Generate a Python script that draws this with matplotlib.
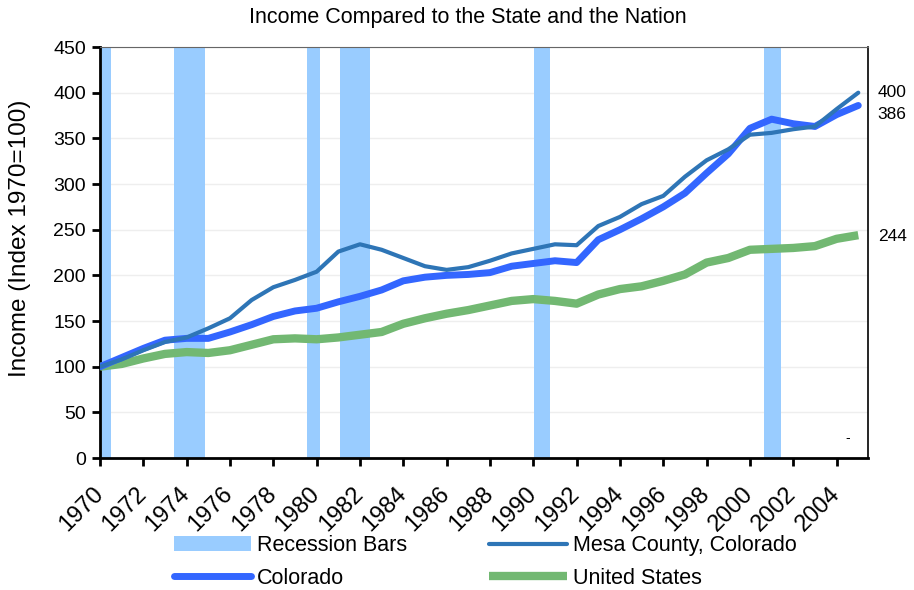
import numpy as np
import matplotlib
matplotlib.use("Agg")
import matplotlib.pyplot as plt
from matplotlib.lines import Line2D
from matplotlib.patches import Patch
from matplotlib.transforms import ScaledTranslation

plt.rcParams['font.family'] = ['Liberation Sans', 'DejaVu Sans']

years = np.arange(1970, 2006)

# Index 1970 = 100
mesa = [100, 108, 118, 127, 132, 142, 153, 173, 187, 195, 204, 226,
        234, 228, 219, 210, 206, 209, 216, 224, 229, 234, 233, 254,
        264, 278, 287, 308, 326, 338, 354, 356, 360, 363, 382, 400]
colorado = [100, 110, 120, 129, 131, 131, 138, 146, 155, 161, 164, 171,
            177, 184, 194, 198, 200, 201, 203, 210, 213, 216, 214, 239,
            250, 262, 275, 290, 312, 333, 361, 371, 366, 363, 376, 386]
usa = [100, 103, 109, 114, 116, 115, 118, 124, 130, 131, 130, 132,
       135, 138, 147, 153, 158, 162, 167, 172, 174, 172, 169, 179,
       185, 188, 194, 201, 214, 219, 228, 229, 230, 232, 240, 244]

# recession periods (start, end) as fractional years
rec_start = [1970.0, 1973.4, 1979.55, 1981.08, 1990.03, 2000.64]
rec_end = [1970.5, 1974.85, 1980.15, 1982.46, 1990.77, 2001.43]

end_labels = ["400", "386", "244"]
end_values = [400, 386, 244]
label_pos = [400, 376, 243]   # label positions, spread so they don't collide

c_rec = '#99CCFF'
c_mesa = '#2E75B6'
c_co = '#3366FF'
c_us = '#72B872'

fig = plt.figure(figsize=(9.14, 5.9), dpi=100)
ax = fig.add_axes([0.1094, 0.2237, 0.8403, 0.6966])

ax.bar(rec_start, 450, width=np.array(rec_end) - np.array(rec_start),
       align='edge', color=c_rec, zorder=1, linewidth=0)
ax.plot(years, usa, color=c_us, lw=6, solid_capstyle='butt', zorder=3)
ax.plot(years, colorado, color=c_co, lw=5, solid_capstyle='round', zorder=4)
ax.plot(years, mesa, color=c_mesa, lw=3, solid_capstyle='round', zorder=5)

ax.set_xlim(1970, 2005.45)
ax.set_ylim(0, 450)
ax.set_yticks(np.arange(0, 451, 50))
ax.set_xticks(np.arange(1970, 2005, 2))
ax.set_xticklabels([str(y) for y in range(1970, 2005, 2)], rotation=45,
                   ha='right', va='top', rotation_mode='anchor', fontsize=17)
ax.tick_params(axis='y', labelsize=14, direction='out', length=6, width=2, pad=4)
ax.tick_params(axis='x', direction='out', length=6, width=2, pad=6)
shift = ScaledTranslation(-8 / 100, -8 / 100, fig.dpi_scale_trans)
for t in ax.get_xticklabels():
    t.set_transform(t.get_transform() + shift)
ax.yaxis.grid(True, color='#EEEEEE', lw=1)
ax.set_axisbelow(True)
ax.spines['left'].set_linewidth(2)
ax.spines['bottom'].set_linewidth(2)
ax.spines['top'].set_color('#666666')
ax.spines['right'].set_linewidth(1.2)

ax.set_ylabel('Income (Index 1970=100)', fontsize=17.5)
ax.yaxis.set_label_coords(-0.09, 0.534)
fig.text(0.512, 0.971, 'Income Compared to the State and the Nation',
         fontsize=15.5, ha='center', va='center')

for lab, v in zip(end_labels, label_pos):
    ax.text(2005.9, v, lab, fontsize=12.5, va='center', ha='left', clip_on=False)
ax.text(2004.5, 22, '-', fontsize=10, ha='center', va='center')

handles = [Patch(color=c_rec, linewidth=0),
           Line2D([], [], color=c_co, lw=5, solid_capstyle='round'),
           Line2D([], [], color=c_mesa, lw=3, solid_capstyle='round'),
           Line2D([], [], color=c_us, lw=6, solid_capstyle='butt')]
labels = ['Recession Bars', 'Colorado', 'Mesa County, Colorado', 'United States']
fig.legend(handles, labels, ncol=2, loc='lower left',
           bbox_to_anchor=(0.169, -0.031), frameon=False, fontsize=15.5,
           handlelength=3.6, handletextpad=0.28, columnspacing=3.8,
           labelspacing=0.55)

fig.savefig('out.png', dpi=100)
